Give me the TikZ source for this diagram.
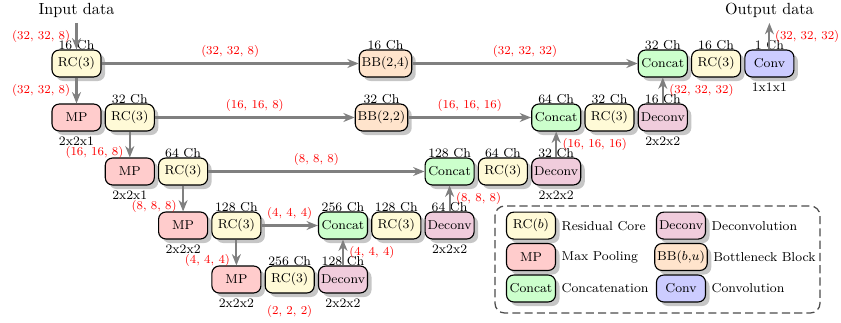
\documentclass[tikz,border=0pt]{standalone}
\usetikzlibrary{shadows,arrows.meta}
\definecolor{rcC}{RGB}{255,250,215}
\definecolor{mpC}{RGB}{255,204,204}
\definecolor{ccC}{RGB}{204,255,204}
\definecolor{dcC}{RGB}{240,204,220}
\definecolor{bbC}{RGB}{255,228,204}
\definecolor{cvC}{RGB}{204,204,255}
\definecolor{arrC}{RGB}{128,128,128}
\begin{document}
\begin{tikzpicture}[x=0.62pt,y=-0.62pt,
  blk/.style={draw=black, line width=0.7pt, rounded corners=4.5pt,
    minimum width=30.4pt, minimum height=16.7pt, inner xsep=1.5pt, inner ysep=1pt,
    font=\footnotesize,
    drop shadow={shadow xshift=2.5pt, shadow yshift=-2.5pt, opacity=0.45, fill=black!50}},
  rcb/.style={blk, fill=rcC},
  mpb/.style={blk, fill=mpC},
  ccb/.style={blk, fill=ccC},
  dcb/.style={blk, fill=dcC},
  bbb/.style={blk, fill=bbC},
  cvb/.style={blk, fill=cvC},
  ch/.style={label={[font=\footnotesize, inner sep=0pt, yshift=-0.4pt]above:#1}},
  ksz/.style={label={[font=\footnotesize, inner sep=3.4pt]below:#1}},
  arr/.style={draw=arrC, line width=1.35pt, -{Stealth[length=7pt, width=5.5pt, inset=2.2pt]}},
  rl/.style={text=red, font=\fontsize{7.5}{9}\selectfont},
  legt/.style={anchor=west, font=\footnotesize, inner sep=3.3pt}]
\useasboundingbox (0,0) rectangle (841,323);

% encoder
\node[rcb, ch=16 Ch] (rc1) at (76.5,63.5) {RC(3)};
\node[mpb, ksz=2x2x1] (mp2) at (76.5,117.5) {MP};
\node[rcb, ch=32 Ch] (rc2) at (129.8,117.5) {RC(3)};
\node[mpb, ksz=2x2x1] (mp3) at (129.8,171.5) {MP};
\node[rcb, ch=64 Ch] (rc3) at (183.1,171.5) {RC(3)};
\node[mpb, ksz=2x2x2] (mp4) at (183.1,225.5) {MP};
\node[rcb, ch=128 Ch] (rc4) at (236.4,225.5) {RC(3)};
\node[mpb, ksz=2x2x2] (mp5) at (236.4,279.5) {MP};
\node[rcb, ch=256 Ch, label={[rl, inner sep=7.4pt]below:(2, 2, 2)}] (rc5) at (289.7,279.5) {RC(3)};

% bottlenecks
\node[bbb, ch=16 Ch] (bb1) at (385.5,63.5) {BB(2,4)};
\node[bbb, ch=32 Ch] (bb2) at (381.5,117.5) {BB(2,2)};

% decoder
\node[dcb, ch=128 Ch, ksz=2x2x2] (dc5) at (343,279.5) {Deconv};
\node[ccb, ch=256 Ch] (cc4) at (343,225.5) {Concat};
\node[rcb, ch=128 Ch] (ru4) at (396.3,225.5) {RC(3)};
\node[dcb, ch=64 Ch, ksz=2x2x2] (dc4) at (449.6,225.5) {Deconv};
\node[ccb, ch=128 Ch] (cc3) at (449.6,171.5) {Concat};
\node[rcb, ch=64 Ch] (ru3) at (502.9,171.5) {RC(3)};
\node[dcb, ch=32 Ch, ksz=2x2x2] (dc3) at (556.2,171.5) {Deconv};
\node[ccb, ch=64 Ch] (cc2) at (556.2,117.5) {Concat};
\node[rcb, ch=32 Ch] (ru2) at (609.5,117.5) {RC(3)};
\node[dcb, ch=16 Ch, ksz=2x2x2] (dc2) at (662.8,117.5) {Deconv};
\node[ccb, ch=32 Ch] (cc1) at (662.8,63.5) {Concat};
\node[rcb, ch=16 Ch] (ru1) at (716.1,63.5) {RC(3)};
\node[cvb, ch=1 Ch, ksz=1x1x1] (conv) at (769.4,63.5) {Conv};

% input / output
\node (in) at (76.5,10) {Input data};
\node (out) at (769.4,10) {Output data};

% connectors
\draw[arr] (in) -- node[rl, left] {(32, 32, 8)} (rc1);
\draw[arr] (rc1) -- node[rl, left] {(32, 32, 8)} (mp2);
\draw[arr] (rc2) -- node[rl, left, pos=0.8] {(16, 16, 8)} (mp3);
\draw[arr] (rc3) -- node[rl, left, pos=0.8] {(8, 8, 8)} (mp4);
\draw[arr] (rc4) -- node[rl, left, pos=0.8] {(4, 4, 4)} (mp5);

\draw[arr] (rc1) -- node[rl, above] {(32, 32, 8)} (bb1);
\draw[arr] (bb1) -- node[rl, above] {(32, 32, 32)} (cc1);
\draw[arr] (rc2) -- node[rl, above] {(16, 16, 8)} (bb2);
\draw[arr] (bb2) -- node[rl, above] {(16, 16, 16)} (cc2);
\draw[arr] (rc3) -- node[rl, above] {(8, 8, 8)} (cc3);
\draw[arr] (rc4) -- node[rl, above] {(4, 4, 4)} (cc4);

\draw[arr] (dc5) -- node[rl, right] {(4, 4, 4)} (cc4);
\draw[arr] (dc4) -- node[rl, right] {(8, 8, 8)} (cc3);
\draw[arr] (dc3) -- node[rl, right] {(16, 16, 16)} (cc2);
\draw[arr] (dc2) -- node[rl, right] {(32, 32, 32)} (cc1);
\draw[arr] (conv) -- node[rl, right, inner xsep=2.8pt] {(32, 32, 32)} (out);

% legend
\draw[black!70, line width=0.8pt, dash pattern=on 5pt off 2.6pt, rounded corners=6pt]
  (495,206) rectangle (820,313);
\node[rcb] (lrc) at (531,225.6) {RC($b$)};
\node[legt] (lrct) at (lrc.east) {Residual Core};
\node[mpb] (lmp) at (531,257) {MP};
\node[legt] (lmpt) at (lmp.east) {Max Pooling};
\node[ccb] (lcc) at (531,288.5) {Concat};
\node[legt] (lcct) at (lcc.east) {Concatenation};
\node[dcb] (ldc) at (681,225.6) {Deconv};
\node[legt] (ldct) at (ldc.east) {Deconvolution};
\node[bbb] (lbb) at (681,257) {BB($b$,$u$)};
\node[legt] (lbbt) at (lbb.east) {Bottleneck Block};
\node[cvb] (lcv) at (681,288.5) {Conv};
\node[legt] (lcvt) at (lcv.east) {Convolution};
\end{tikzpicture}
\end{document}
